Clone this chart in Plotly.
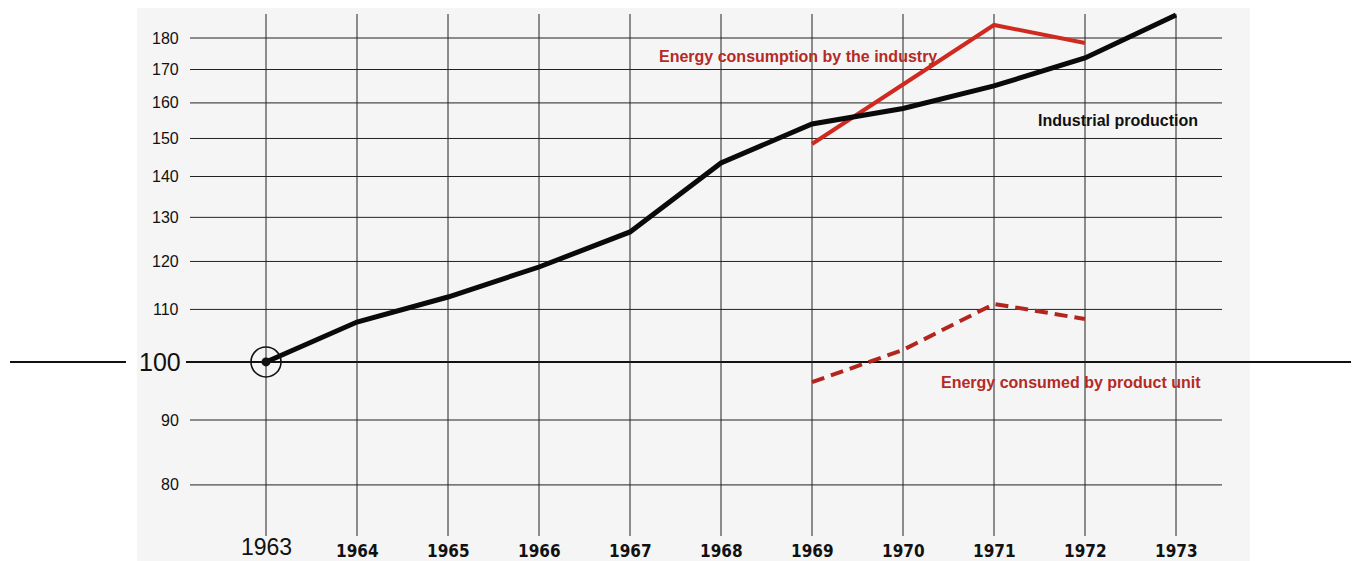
import numpy as np
import plotly.graph_objects as go

years = [1963, 1964, 1965, 1966, 1967, 1968, 1969, 1970, 1971, 1972, 1973]
industrial_production = [100, 107.5, 112.5, 118.8, 126.6, 143.5, 154, 158.4, 165, 173.6, 187.7]

energy_years = [1969, 1970, 1971, 1972]
energy_industry = [148.5, 165.3, 184.3, 178.4]
energy_per_unit = [96.4, 102.2, 111.1, 108.1]

grid_levels = [80, 90, 110, 120, 130, 140, 150, 160, 170, 180]
year_labels = ["1963", "1964", "1965", "1966", "1967", "1968",
               "1969", "1970", "1971", "1972", "1973"]

SW, SH = 1359, 561          # browser window
PAD = 8                     # default body margin of the page
W, H = SW - PAD, SH - PAD   # figure runs to the right / bottom edge of the window

# screen pixel -> data helpers (x linear, y log)
X0, PX_YEAR = 1963 - 266 / 91, 91.0
LOG_TOP, PX_DEC = np.log10(180) + 38 / 1269, 1269.0


def xd(px):
    return X0 + px / PX_YEAR


def yl(py):
    return LOG_TOP - py / PX_DEC


RED = "#d02a20"
DARK_RED = "#b3261f"
TEXT_RED = "#b52a25"
GRID = "#222222"
FONT = "Liberation Sans, Arial, sans-serif"

fig = go.Figure()

shapes = []
# grey paper background of the scan
shapes.append(dict(type="rect", x0=xd(137), x1=xd(1250), y0=10 ** yl(SH), y1=10 ** yl(0),
                   fillcolor="#f5f5f5", line_width=0, layer="below"))
# horizontal grid
for v in grid_levels:
    shapes.append(dict(type="line", x0=xd(190), x1=xd(1222), y0=v, y1=v,
                       line=dict(color=GRID, width=1), layer="below"))
# base line 100
shapes.append(dict(type="line", x0=xd(10), x1=xd(126), y0=100, y1=100,
                   line=dict(color="#111", width=2), layer="below"))
shapes.append(dict(type="line", x0=xd(186), x1=xd(SW), y0=100, y1=100,
                   line=dict(color="#111", width=2), layer="below"))
# vertical grid
for yr in years:
    shapes.append(dict(type="line", x0=yr, x1=yr, y0=10 ** yl(536), y1=10 ** yl(14),
                       line=dict(color=GRID, width=1), layer="below"))

fig.add_trace(go.Scatter(x=energy_years, y=energy_industry, mode="lines",
                         line=dict(color=RED, width=4), hoverinfo="skip"))
fig.add_trace(go.Scatter(x=energy_years, y=energy_per_unit, mode="lines",
                         line=dict(color=DARK_RED, width=4, dash="13px,7px"),
                         hoverinfo="skip"))
fig.add_trace(go.Scatter(x=years, y=industrial_production, mode="lines",
                         line=dict(color="#0a0a0a", width=5), hoverinfo="skip"))
fig.add_trace(go.Scatter(x=[years[0]], y=[industrial_production[0]], mode="markers",
                         marker=dict(symbol="circle-open", size=30, color="#111",
                                     line=dict(color="#111", width=1.6)),
                         hoverinfo="skip"))
fig.add_trace(go.Scatter(x=[years[0]], y=[industrial_production[0]], mode="markers",
                         marker=dict(color="#111", size=9), hoverinfo="skip"))

annotations = []
for v in grid_levels:
    annotations.append(dict(x=xd(181), y=np.log10(v), text=str(v), showarrow=False,
                            xanchor="right", yanchor="middle",
                            font=dict(family=FONT, size=16, color="#111")))
annotations.append(dict(x=xd(183), y=2, text="100", showarrow=False,
                        xanchor="right", yanchor="middle",
                        font=dict(family=FONT, size=25, color="#111")))
for yr, lab in zip(years, year_labels):
    big = yr == 1963
    annotations.append(dict(
        x=yr, y=yl(547 if big else 551), text=lab, showarrow=False,
        xanchor="center", yanchor="middle",
        font=dict(family=FONT if big
                  else "Liberation Sans Narrow, DejaVu Sans Condensed, sans-serif",
                  size=23 if big else 17, color="#111",
                  weight="normal" if big else "bold")))

annotations.append(dict(x=xd(798), y=yl(56), text="Energy consumption by the industry",
                        showarrow=False, xanchor="center", yanchor="middle",
                        font=dict(family=FONT, size=16, color=TEXT_RED, weight="bold")))
annotations.append(dict(x=xd(1118), y=yl(120), text="Industrial production",
                        showarrow=False, xanchor="center", yanchor="middle",
                        font=dict(family=FONT, size=16, color="#111", weight="bold")))
annotations.append(dict(x=xd(1071), y=yl(382), text="Energy consumed by product unit",
                        showarrow=False, xanchor="center", yanchor="middle",
                        font=dict(family=FONT, size=16, color=TEXT_RED, weight="bold")))

fig.update_layout(
    width=W, height=H,
    margin=dict(l=0, r=0, t=0, b=0),
    paper_bgcolor="white",
    plot_bgcolor="rgba(0,0,0,0)",
    showlegend=False,
    shapes=shapes,
    annotations=annotations,
    xaxis=dict(range=[xd(PAD), xd(PAD + W)], visible=False, fixedrange=True),
    yaxis=dict(type="log", range=[yl(PAD + H), yl(PAD)], visible=False, fixedrange=True),
)

fig.write_html("out.html", config={"displayModeBar": False})
